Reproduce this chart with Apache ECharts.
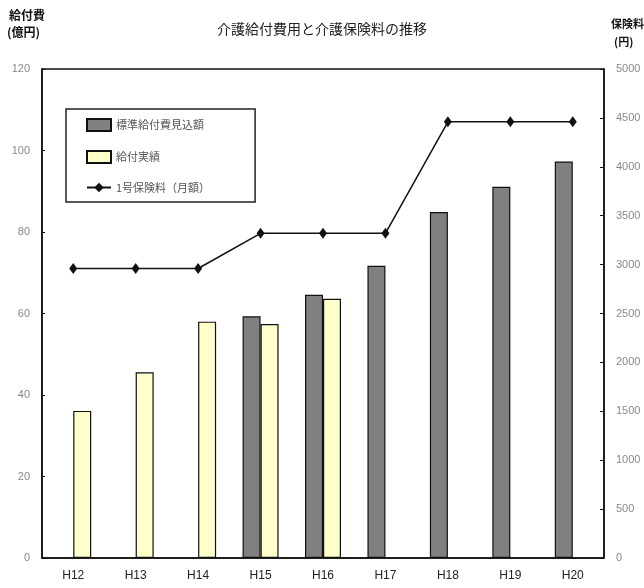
<!DOCTYPE html>
<html>
<head>
<meta charset="utf-8">
<script src="https://cdn.jsdelivr.net/npm/echarts@6/dist/echarts.min.js"></script>
<style>html,body{margin:0;padding:0;background:#fff;}#c{width:644px;height:588px;}</style>
</head>
<body>
<div id="c"></div>
<script>
const categories = ['H12','H13','H14','H15','H16','H17','H18','H19','H20'];
const projectedCost = [null, null, null, 59.3, 64.6, 71.7, 84.9, 91.1, 97.3];
const actualCost = [36.1, 45.6, 58.0, 57.4, 63.6, null, null, null, null];
const premium = [2960, 2960, 2960, 3320, 3320, 3320, 4460, 4460, 4460];
const leftTicks = {min: 0, max: 120, interval: 20};
const rightTicks = {min: 0, max: 5000, interval: 500};

const jp = '"Noto Sans CJK JP", sans-serif';
const num = '"Liberation Sans Narrow", "Liberation Sans", sans-serif';
const chart = echarts.init(document.getElementById('c'));
chart.setOption({
  animation: false,
  backgroundColor: '#fff',
  title: {
    text: '介護給付費用と介護保険料の推移',
    left: 'center', top: 17,
    textStyle: {fontFamily: jp, fontSize: 14, fontWeight: 'normal', color: '#222'}
  },
  graphic: [
    {type: 'text', left: 9, top: 9, style: {text: '給付費', font: 'bold 12px "Noto Sans CJK JP"', fill: '#111'}},
    {type: 'text', left: 7, top: 26, style: {text: '(億円)', font: 'bold 12px "Noto Sans CJK JP"', fill: '#111'}},
    {type: 'text', left: 611, top: 18, style: {text: '保険料', font: 'bold 11px "Noto Sans CJK JP"', fill: '#111'}},
    {type: 'text', left: 614, top: 36, style: {text: '(円)', font: 'bold 11px "Noto Sans CJK JP"', fill: '#111'}}
  ],
  legend: {
    orient: 'vertical',
    left: 66, top: 109,
    padding: [9, 45, 9, 20],
    itemGap: 18,
    itemWidth: 24, itemHeight: 12,
    borderColor: '#222', borderWidth: 1.5,
    textStyle: {fontFamily: jp, fontSize: 11, color: '#555'},
    data: [
      {name: '標準給付費見込額', icon: 'rect'},
      {name: '給付実績', icon: 'rect'},
      {name: '1号保険料（月額）'}
    ]
  },
  grid: {left: 42, right: 40, top: 69, bottom: 30, show: true, borderColor: '#111', borderWidth: 1.5, backgroundColor: 'transparent'},
  xAxis: {
    type: 'category',
    data: categories,
    axisLine: {lineStyle: {color: '#111', width: 1.5}},
    axisTick: {inside: true, length: 4, lineStyle: {color: '#111'}},
    axisLabel: {fontFamily: num, fontSize: 12, color: '#222', margin: 12}
  },
  yAxis: [
    {
      type: 'value', min: leftTicks.min, max: leftTicks.max, interval: leftTicks.interval,
      splitLine: {show: false},
      axisLine: {show: true, lineStyle: {color: '#111', width: 1.5}},
      axisTick: {show: true, inside: true, length: 3, lineStyle: {color: '#111'}},
      axisLabel: {fontFamily: num, fontSize: 11, color: '#888', margin: 12}
    },
    {
      type: 'value', min: rightTicks.min, max: rightTicks.max, interval: rightTicks.interval,
      splitLine: {show: false},
      axisLine: {show: true, lineStyle: {color: '#111', width: 1.5}},
      axisTick: {show: true, inside: true, length: 4, lineStyle: {color: '#111'}},
      axisLabel: {fontFamily: num, fontSize: 11, color: '#888', margin: 12, formatter: v => String(v)}
    }
  ],
  series: [
    {
      name: '標準給付費見込額', type: 'bar', data: projectedCost,
      barWidth: 18, barGap: '0%',
      itemStyle: {color: '#808080', borderColor: '#111', borderWidth: 1.2}
    },
    {
      name: '給付実績', type: 'bar', data: actualCost,
      barWidth: 18, barGap: '0%',
      itemStyle: {color: '#FFFFCC', borderColor: '#111', borderWidth: 1.2}
    },
    {
      name: '1号保険料（月額）', type: 'line', yAxisIndex: 1, data: premium,
      symbol: 'diamond', symbolSize: [8, 11],
      lineStyle: {color: '#111', width: 1.5},
      itemStyle: {color: '#111'}
    }
  ]
});
</script>
</body>
</html>
